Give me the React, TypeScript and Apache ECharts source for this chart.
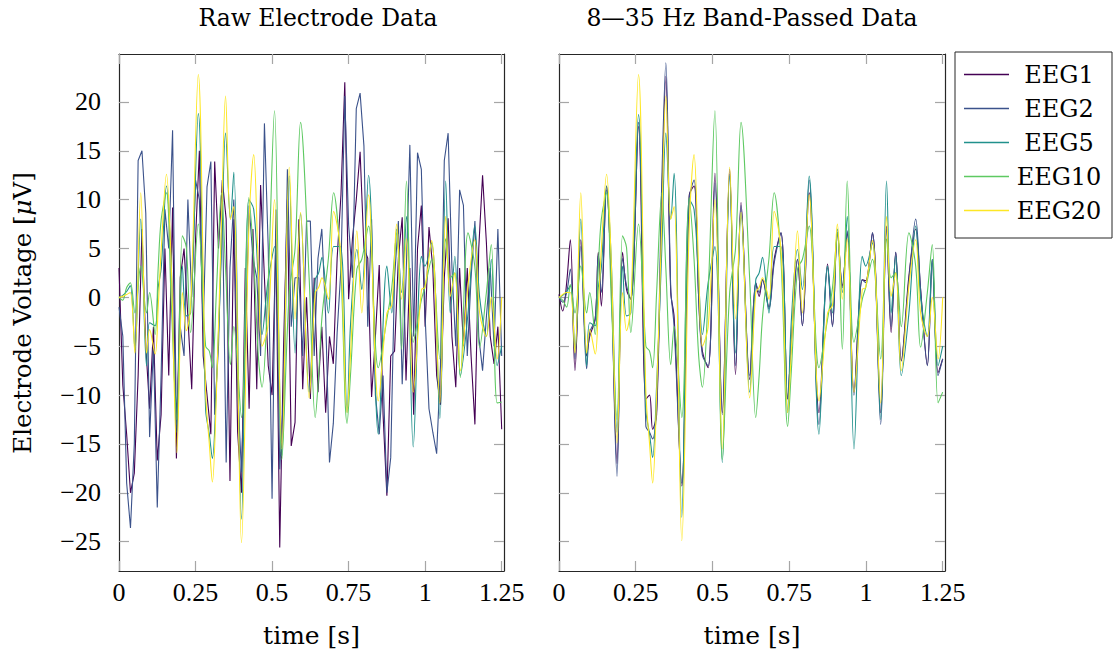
import React, { useEffect, useRef } from "react";
import * as echarts from "echarts";

// ---------- data ----------
const SERIES_NAMES = ["EEG1", "EEG2", "EEG5", "EEG10", "EEG20"];
const SERIES_COLORS = ["#440154", "#3b528b", "#21918c", "#5ec962", "#fde725"];

const X_TICKS = [0, 0.25, 0.5, 0.75, 1, 1.25];
const Y_TICKS = [-25, -20, -15, -10, -5, 0, 5, 10, 15, 20];
const X_MIN = 0;
const X_MAX = 1.2575;
const Y_MIN = -28;
const Y_MAX = 24.9;

// raw EEG1 / EEG2 sampled every 0.0125 s
const SAMPLE_DT = 0.0125;
const RAW_EEG1 = [
  3, -9, -14, -20, -18, -8, 7, -5, -11.4, -3, -16.7, -12, 5, -8, 9.2, -16.5, 2, 5, -2, -9.4,
  6, 15, -6, -10, -14, 13.9, 5, 12, 8, -18.8, 8, -13.8, -20, 3, -11.4, 7, -9.4, 11.5, 2, -7,
  -10, 6, -25.6, -5, 10, -15.2, -12.8, 8, -9.4, 0, -10.4, 2, -9.7, -3, -11.8, -4, -6.8, 4, 10.5, 22,
  -0.2, 6, 10, 14.9, 5, 4, -10.2, -4, 3.3, -12, -20.3, -6, -5.5, 4, 8.2, -8.5, 3, -12, 5, 9.4,
  -3, 7.2, 3, -8, -11, 2, 8.1, -4, -9.2, 3, -5, 3, -6, -13, 5, 12.5, 5.6, -4, -6.8, -3, -13.5,
];
const RAW_EEG2 = [
  -1, -4, -19, -23.6, -15, 14, 15, 8.6, -14.3, -5, -21.5, -8, 9, 5, 17.1, -13, -3, -6, 10, 0,
  12, 10, -3, 11.3, 13.9, -12, -5, 10, -16.9, 3, 10, -9.4, -17.9, -5, 9.4, 4, 2, -6, 17.8, 5,
  -20.6, 9, -17.6, -10, 13.1, -3, 2, 2, -6, 7.8, 7.8, -6, 4, 7, -2, -16.9, -12.9, -3.6, 3, 20.6,
  7.4, 2, 19.3, 20.9, 15.5, -3, 8, -10, -14, -8, -20, -16.4, 2, 7.8, -8.9, 2, 15.6, -4, 14.8, 13.1,
  -2, -11.4, -13.8, -16, -7, 14, 16.8, 3, -5, 11, 9.4, -6, 2, 7.8, -4, -7.5, -2, 3, -5, 7, -6,
];

// key times (s) of the smoother traces
const KEY_T = [
  0, 0.012, 0.025, 0.037, 0.052, 0.071, 0.09, 0.1, 0.118, 0.128, 0.138, 0.155, 0.17, 0.189, 0.207,
  0.22, 0.234, 0.259, 0.283, 0.295, 0.305, 0.318, 0.335, 0.348, 0.364, 0.375, 0.4, 0.424, 0.44,
  0.455, 0.467, 0.486, 0.508, 0.532, 0.556, 0.575, 0.593, 0.621, 0.641, 0.652, 0.663, 0.684, 0.701,
  0.723, 0.745, 0.756, 0.777, 0.793, 0.815, 0.847, 0.875, 0.891, 0.907, 0.923, 0.939, 0.961, 0.988,
  0.999, 1.021, 1.048, 1.067, 1.082, 1.097, 1.115, 1.14, 1.162, 1.178, 1.2, 1.216, 1.235, 1.25,
];

// raw EEG5 / EEG10 / EEG20 at KEY_T
const RAW_EEG5 = [
  0, 0.2, 0.6, 1.2, -5.3, 8, -7, -2.6, -2.9, 1, 3, 11.4, 4, -13.8, 3.2, -1.9, -1.6, 18.8, -11.5,
  -14, -16.5, -9, 5, 16.8, 8, 12.8, -22.7, 10, 9, 1.8, -3.8, 1.5, 5.2, -16.2, 12.4, -5.7, 8.6, -9.7,
  1.8, 2.5, 4.1, -1.6, 5.2, 5.2, -11.8, -2.9, 4.9, 0.8, 12.5, -14, 3.2, -1.6, 7, 0.5, 8.3, -15.3,
  4.2, 3.2, 5.6, -12.4, 11.9, -1.6, 4.2, -8, -1.6, 7.3, 0, -4, 3.9, -7, -5,
];
const RAW_EEG10 = [
  0, -0.3, 1, 1.5, -1.6, 3.2, -1.6, 0.5, -3.8, 3, 8, 10.7, 0, -12.5, 6.3, 5.1, -3.6, 7.5, -5, -5.5,
  -7.2, 0.5, 10.7, 3, -6.9, -3, -12.3, 10.2, 3.9, -6, -9.2, 0.5, 19.1, -16.6, 0.5, 5, 17.9, 2,
  -12.3, -8, -2, 4, 10.7, 3.9, -12.9, -8, 2.9, 3.9, 7.3, -7.2, -2.2, 1, 6.6, -5.3, 11.9, -4.6, -0.2,
  1, 3.9, -6.3, 6, 2, 2.5, -8.2, 6.6, 3.2, -5.1, 0.5, 5.4, -10.8, -10.7,
];
const RAW_EEG20 = [
  0, 0.1, 0.3, 0.5, -5.7, 10.7, -5.7, -3.3, -5.8, -1, 5, 12.6, 3.9, -15.9, 0.5, -3.4, -0.9, 22.8,
  -9.7, -15, -18.9, -10, 8, 20.6, 8, 9.3, -25.1, 7, 14.6, 3, -5, -3, 10, -15.5, 13.3, -2.2, 8.7,
  -10.3, 0.5, 1, 2, -0.2, 8.8, 5, -11.8, -6, 6.8, -1.6, 10.5, -10.6, -1.6, -0.8, 7.5, -0.2, 6,
  -9.7, 0.8, 1, 5.8, -10.8, 8.3, 0.1, 2.5, -7.5, 1.2, 5.9, -1.6, -4, 0, -6.3, 0,
];

// 8–35 Hz band-passed at KEY_T
const BP_EEG1 = [
  0.3, -1.4, 1.5, 5.9, -7.5, 5.9, -6, -4, -2.2, 4.6, -0.9, 11.4, 2, -17, 4.6, 0.8, -0.2, 17.5,
  -10.4, -10, -13.5, -12, 10, 22.6, 0.5, -2, -19.3, 10.4, 11.4, 0, -5.5, -7.2, 12.7, -11.8, 13.1,
  -7.9, 9.7, -8.4, 1.5, 0.1, 1.8, -1, 3.9, 6.6, -10.4, -5, 3.9, -2.9, 10.7, -11.8, 3.4, -2.9, 6.6,
  1.2, 6.6, -9.7, 1.8, 1.7, 6.6, -11.8, 7.3, -3.6, 4.6, -6.5, 2.2, 7, 0.8, -6.9, 3.9, -7.7, -6.3,
];
const BP_EEG2 = [
  0, -0.5, 0.5, 2.9, -6.3, 5.2, -7.3, -3.6, -2.2, 4.3, 0.5, 11, 2, -18.3, 4, 1.2, -0.2, 17.9,
  -13.2, -13.8, -14.5, -11.5, 12, 24, 1, -3, -19, 10, 12, 0, -5.9, -7, 11.7, -12, 12.6, -7, 9.4,
  -8, 1.5, 0.5, 1.8, -1.2, 3.5, 6.6, -10.4, -5, 3.9, -2.9, 12, -13, 3, -3, 6.6, 1, 6.8, -10, 1.8,
  1.5, 6.6, -13, 7, -3, 4.6, -6.5, 1.8, 8, 0.8, -7, 3.5, -8, -6.3,
];
const BP_EEG5 = [
  0, 0.2, 0.6, 1.2, -5.3, 8, -7, -2.6, -2.9, 1, 3, 11.4, 4, -13.8, 3.2, -1.9, -1.6, 18.7, -11.5,
  -14, -16.4, -9, 5, 16.8, 8, 12.7, -22.5, 10, 9, 1.8, -3.8, 1.5, 5.2, -16.9, 12.4, -5.7, 8.6, -9.7,
  1.8, 2.5, 4.1, -1.6, 5.2, 5.2, -11.8, -2.9, 4.9, 0.8, 12.4, -14, 3.2, -1.6, 7, 0.5, 8.3, -15.5,
  4.2, 3.2, 5.6, -12.5, 11.9, -1.6, 4.2, -8, -1.6, 7.3, 0, -4, 3.9, -7, -5,
];
const BP_EEG10 = [
  0, -0.3, -1, 1.3, -1.6, 3.2, -1.6, 0.5, -3.8, 3, 8, 10.7, 0, -12.5, 6.3, 5.1, -3.6, 7.5, -5,
  -5.5, -7.2, 0.5, 10.7, 3, -6.9, -3, -12.3, 10.2, 3.9, -6, -9.2, 0.5, 19.1, -16.6, 0.5, 5, 17.9,
  2, -12.3, -8, -2, 4, 10.7, 3.9, -13.2, -8, 2.9, 3.9, 7.3, -7.2, -2.2, 1, 6.6, -5.3, 11.9, -4.6,
  -0.2, 1, 3.9, -6.3, 6, 2, 2.5, -3, 6.6, 3.2, -5.1, 0.5, 5.4, -10.8, -9.7,
];
const BP_EEG20 = [
  0, 0.3, 0.5, 0.5, -5.7, 10.7, -5.7, -3.3, -5.8, -1, 5, 12.6, 3.9, -14.9, 0.5, -3.4, -0.9, 22.8,
  -9.7, -15, -19, -10, 8, 20.6, 8, 9.3, -24.9, 7, 14.6, 3, -5, -3, 10, -15.5, 13.3, -2.2, 8.7,
  -10.3, 0.5, 1, 2, -0.2, 8.8, 5, -11.8, -6, 6.8, -1.6, 10.5, -10.6, -1.6, -0.8, 7.5, -0.2, 6,
  -9.7, 0.8, 1, 5.8, -10.8, 8.3, 0.1, 2.5, -7.5, 1.2, 5.9, -1.6, -4, 0, -6.3, 0,
];

// ---------- styling ----------
const TEXT_FONT = "'DejaVu Serif', serif";
const NUM_FONT = "'Liberation Serif', serif";
const FRAME = "#262626";
const TICK = "#a6a6a6";

const sampled = (vals: number[]) => vals.map((v, i) => [i * SAMPLE_DT, v]);
const keyed = (vals: number[]) => vals.map((v, i) => [KEY_T[i], v]);

function makeX(grid: number, bottom: boolean) {
  return {
    type: "value",
    gridIndex: grid,
    position: bottom ? "bottom" : "top",
    min: X_MIN,
    max: X_MAX,
    axisLine: { show: true, onZero: false, lineStyle: { color: FRAME, width: 1.2 } },
    axisTick: { show: true, inside: true, length: 10, customValues: X_TICKS, lineStyle: { color: TICK, width: 1.2 } },
    axisLabel: bottom
      ? { show: true, customValues: X_TICKS, fontFamily: NUM_FONT, fontSize: 26, color: "#000", margin: 8 }
      : { show: false },
    splitLine: { show: false },
    name: bottom ? "time [s]" : "",
    nameLocation: "middle",
    nameGap: 52,
    nameTextStyle: { fontFamily: TEXT_FONT, fontSize: 25, color: "#000" },
  };
}

function makeY(grid: number, left: boolean, labels: boolean) {
  return {
    type: "value",
    gridIndex: grid,
    position: left ? "left" : "right",
    min: Y_MIN,
    max: Y_MAX,
    axisLine: { show: true, onZero: false, lineStyle: { color: FRAME, width: 1.2 } },
    axisTick: { show: true, inside: true, length: 10, customValues: Y_TICKS, lineStyle: { color: TICK, width: 1.2 } },
    axisLabel: labels
      ? {
          show: true,
          customValues: Y_TICKS,
          fontFamily: NUM_FONT,
          fontSize: 26,
          color: "#000",
          margin: 18,
          formatter: (v: number) => String(v).replace("-", "\u2212"),
        }
      : { show: false },
    splitLine: { show: false },
  };
}

export default function App() {
  const ref = useRef<HTMLDivElement>(null);
  useEffect(() => {
    if (!ref.current) return;
    const chart = echarts.init(ref.current, undefined, { renderer: "svg" });
    const rawData = [sampled(RAW_EEG1), sampled(RAW_EEG2), keyed(RAW_EEG5), keyed(RAW_EEG10), keyed(RAW_EEG20)];
    const bpData = [keyed(BP_EEG1), keyed(BP_EEG2), keyed(BP_EEG5), keyed(BP_EEG10), keyed(BP_EEG20)];
    const series: any[] = [];
    SERIES_NAMES.forEach((name, i) => {
      series.push({
        name,
        type: "line",
        xAxisIndex: 0,
        yAxisIndex: 0,
        data: rawData[i],
        showSymbol: false,
        symbol: "none",
        smooth: i < 2 ? false : 0.35,
        lineStyle: { width: 1.1, color: SERIES_COLORS[i] },
        itemStyle: { color: SERIES_COLORS[i] },
        clip: true,
      });
    });
    SERIES_NAMES.forEach((name, i) => {
      series.push({
        name,
        type: "line",
        xAxisIndex: 2,
        yAxisIndex: 2,
        data: bpData[i],
        showSymbol: false,
        symbol: "none",
        smooth: 0.35,
        lineStyle: { width: 1.1, color: SERIES_COLORS[i] },
        itemStyle: { color: SERIES_COLORS[i] },
        clip: true,
      });
    });

    chart.setOption({
      animation: false,
      backgroundColor: "#ffffff",
      grid: [
        { left: 119, top: 54, width: 385, height: 518 },
        { left: 559, top: 54, width: 386, height: 518 },
      ],
      xAxis: [makeX(0, true), makeX(0, false), makeX(1, true), makeX(1, false)],
      yAxis: [makeY(0, true, true), makeY(0, false, false), makeY(1, true, false), makeY(1, false, false)],
      legend: {
        data: SERIES_NAMES.map((n) => ({ name: n, icon: "rect" })),
        orient: "vertical",
        left: 955,
        top: 52,
        padding: [10, 8, 15, 9],
        itemGap: 9,
        itemWidth: 45,
        itemHeight: 1.3,
        borderColor: FRAME,
        borderWidth: 1,
        borderRadius: 0,
        selectedMode: false,
        formatter: (n: string) => `{c|${n}}`,
        textStyle: {
          fontFamily: TEXT_FONT,
          fontSize: 24,
          color: "#000",
          rich: { c: { width: 90, height: 25, lineHeight: 25, align: "center", fontFamily: TEXT_FONT, fontSize: 24, color: "#000" } },
        },
      },
      graphic: [
        {
          type: "text",
          x: 318,
          y: 18,
          style: { text: "Raw Electrode Data", textAlign: "center", textVerticalAlign: "middle", fontFamily: TEXT_FONT, fontSize: 23.5, fill: "#000" },
        },
        {
          type: "text",
          x: 752,
          y: 18,
          style: { text: "8\u201435 Hz Band-Passed Data", textAlign: "center", textVerticalAlign: "middle", fontFamily: TEXT_FONT, fontSize: 23.5, fill: "#000" },
        },
        {
          type: "text",
          x: 22,
          y: 313,
          rotation: Math.PI / 2,
          style: {
            text: "Electrode Voltage [{i|\u03bc}V]",
            textAlign: "center",
            textVerticalAlign: "middle",
            fontFamily: TEXT_FONT,
            fontSize: 24.5,
            fill: "#000",
            rich: { i: { fontFamily: TEXT_FONT, fontSize: 24.5, fontStyle: "italic", fill: "#000" } },
          },
        },
      ],
      series,
    });
    return () => chart.dispose();
  }, []);
  return (
    <div
      ref={ref}
      style={{ position: "fixed", left: 0, top: 0, width: 1116, height: 653, background: "#fff" }}
    />
  );
}
